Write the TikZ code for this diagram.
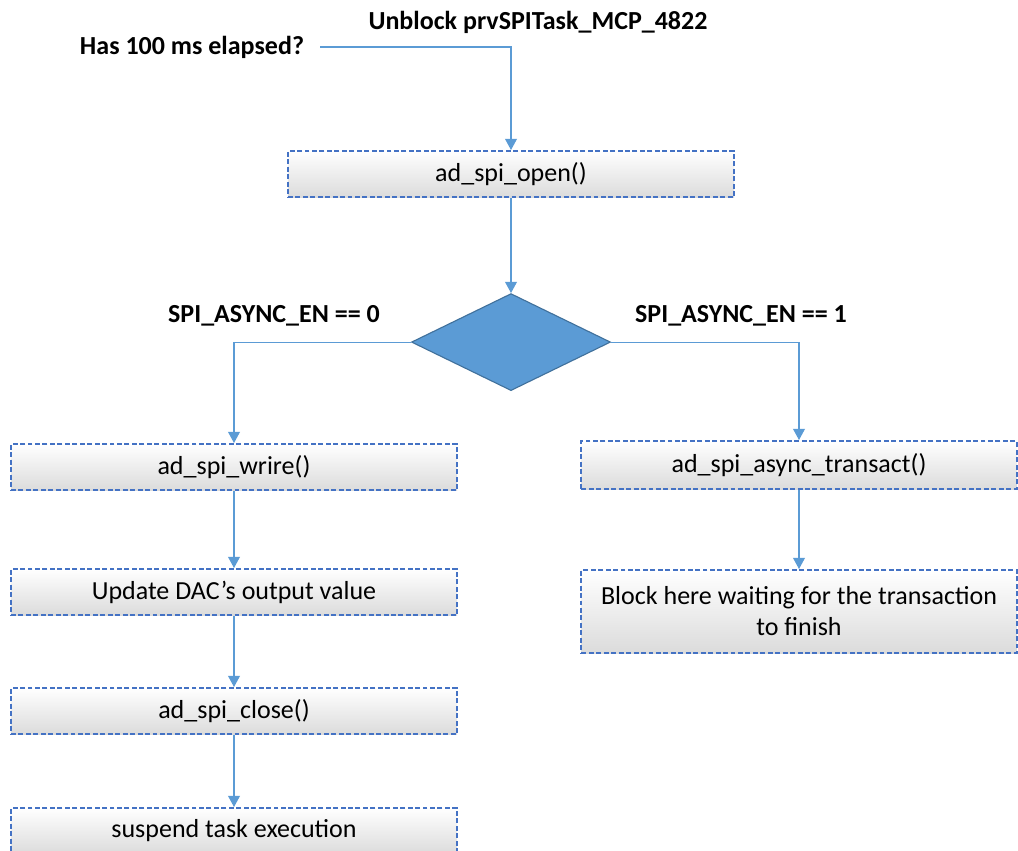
\documentclass[tikz,border=0pt]{standalone}
\usepackage{fontspec}
\setmainfont{Carlito}
\usetikzlibrary{shapes,arrows.meta,positioning}
\definecolor{lineblue}{RGB}{91,155,213}
\definecolor{boxblue}{RGB}{68,114,196}
\definecolor{diafill}{RGB}{91,155,213}
\definecolor{diaedge}{RGB}{65,113,156}

\begin{document}
\begin{tikzpicture}[x=0.025cm,y=-0.025cm]
 \tikzset{main node/.style={rectangle, draw=boxblue, line width=1.4pt,
 		dash pattern=on 3.5pt off 1.8pt, top color=white, bottom color=black!14,
 		text centered, minimum width=11.15cm, minimum height=1.15cm,
 		font=\fontsize{18.5}{22}\selectfont}, }
 \tikzset{cond node/.style={diamond, draw=diaedge, fill=diafill, line width=0.8pt,
 		inner sep=0pt, minimum width=4.975cm, minimum height=2.425cm}, }
 \tikzset{label node/.style={font=\bfseries\fontsize{18.5}{22}\selectfont}, }
 \tikzset{linea/.style={color=lineblue, line width=0.8pt,
 		-{Triangle[width=8.5pt,length=8pt]}},}
 \useasboundingbox (0,0) rectangle (1018,850);
 \node[label node] (t1) at (538,22) {Unblock prvSPITask\_MCP\_4822};
 \node[label node] (t2) at (192,47) {Has 100 ms elapsed?};
 \node[main node] (1) at (511,174) {ad\_spi\_open()};
 \node[cond node] (2) [below =2.375cm of 1] {};
 \node[label node] (l0) at (274,316) {SPI\_ASYNC\_EN == 0};
 \node[label node] (l1) at (741,316) {SPI\_ASYNC\_EN == 1};
 \node[main node] (3) at (234,467) {ad\_spi\_wrire()};
 \node[main node] (4) [below =1.925cm of 3] {Update DAC’s output value};
 \node[main node] (5) [below =1.775cm of 4] {ad\_spi\_close()};
 \node[main node] (6) [below =1.8cm of 5] {suspend task execution};
 \node[main node, minimum width=10.875cm, minimum height=1.2cm] (7) at (799,465) {ad\_spi\_async\_transact()};
 \node[main node, minimum width=10.875cm, minimum height=2.075cm, align=center] (8) [below =1.975cm of 7] {Block here waiting for the transaction\\to finish};
 \draw[linea, shorten <=8pt] (t2.east) -| (1);
 \draw[linea] (2.west) -| (3);
 \draw[linea] (2.east) -| (7);
 \foreach \x /\y in{1/2,3/4,4/5,5/6,7/8}
 \path[linea] (\x) edge node {} (\y);
 %%
\end{tikzpicture}
\end{document}
